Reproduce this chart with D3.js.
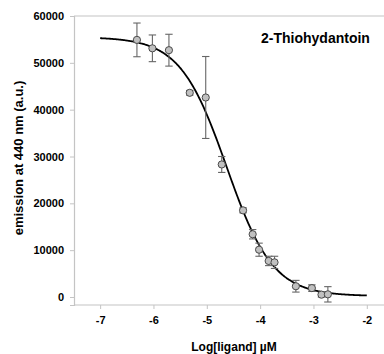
<!DOCTYPE html>
<html><head><meta charset="utf-8">
<script src="https://cdn.jsdelivr.net/npm/d3@7"></script>
<style>html,body{margin:0;padding:0;background:#fff;}svg{display:block;font-family:"Liberation Sans",Arial,sans-serif;}</style>
</head><body><svg id="c" width="384" height="354"></svg>
<script>
const logConc = [-6.31,-6.02,-5.71,-5.32,-5.02,-4.72,-4.32,-4.14,-4.02,-3.84,-3.73,-3.33,-3.03,-2.85,-2.73];
const emission = [54900,53100,52700,43600,42600,28300,18500,13400,10100,7700,7400,2300,1900,500,570];
const errors = [3600,2850,3400,500,8750,1700,530,1000,1400,1000,1300,1250,700,500,1640];
const fitParams = {top:55500, bottom:200, logIC50:-4.63, hill:1.0};
const xTicks = [-7,-6,-5,-4,-3,-2];
const yTicks = [0,10000,20000,30000,40000,50000,60000];
const title = "2-Thiohydantoin";

const svg = d3.select("#c");
const x = d3.scaleLinear().domain([-7.49,-1.49]).range([74,394]);
const y = d3.scaleLinear().domain([-1708,60000]).range([305,16]);
const axisCol = "#c4c4c4";

// frame top
svg.append("line").attr("x1",74).attr("x2",384).attr("y1",16).attr("y2",16).attr("stroke",axisCol).attr("stroke-width",1.2);

const gx = svg.append("g").attr("transform","translate(0,305)").call(d3.axisBottom(x).tickValues(xTicks).tickSize(4).tickPadding(7).tickFormat(d=>String(d)));
const gy = svg.append("g").attr("transform","translate(74,0)").call(d3.axisLeft(y).tickValues(yTicks).tickSize(4).tickPadding(6).tickFormat(d=>String(d)));
[gx,gy].forEach(g=>{
  g.select(".domain").attr("stroke",axisCol).attr("stroke-width",1.2);
  g.selectAll(".tick line").attr("stroke",axisCol);
  g.selectAll(".tick text").attr("fill","#000").style("font-size","11px").style("font-weight","bold").style("font-family","'Liberation Sans',Arial,sans-serif");
});
gx.select(".domain").attr("d","M74,0H384");

// labels
svg.append("text").attr("x",234).attr("y",351).attr("text-anchor","middle").style("font-size","12px").style("font-weight","bold").text("Log[ligand] µM");
svg.append("text").attr("transform","translate(23,158) rotate(-90)").attr("text-anchor","middle").style("font-size","13px").style("font-weight","bold").text("emission at 440 nm (a.u.)");
svg.append("text").attr("x",261).attr("y",43).style("font-size","14px").style("font-weight","bold").text(title);

// fit curve
const f = v => fitParams.bottom + (fitParams.top-fitParams.bottom)/(1+Math.pow(10,(v-fitParams.logIC50)*fitParams.hill));
const xs = d3.range(-7,-2.0001+0.01,0.02);
svg.append("path").datum(xs).attr("d",d3.line().x(d=>x(d)).y(d=>y(f(d))).curve(d3.curveBasis)).attr("fill","none").attr("stroke","#000").attr("stroke-width",1.8);

// error bars
const data = logConc.map((c,i)=>({c,v:emission[i],e:errors[i]}));
const eb = svg.append("g").attr("stroke","#666").attr("stroke-width",1.1);
data.forEach(d=>{
  const cx=x(d.c);
  eb.append("line").attr("x1",cx).attr("x2",cx).attr("y1",y(d.v+d.e)).attr("y2",y(d.v-d.e));
  eb.append("line").attr("x1",cx-3.7).attr("x2",cx+3.7).attr("y1",y(d.v+d.e)).attr("y2",y(d.v+d.e));
  eb.append("line").attr("x1",cx-3.7).attr("x2",cx+3.7).attr("y1",y(d.v-d.e)).attr("y2",y(d.v-d.e));
});
svg.append("g").selectAll("circle").data(data).join("circle")
  .attr("cx",d=>x(d.c)).attr("cy",d=>y(d.v)).attr("r",3.6)
  .attr("fill","#c0c0c0").attr("stroke","#4a4a4a").attr("stroke-width",1);
</script></body></html>
